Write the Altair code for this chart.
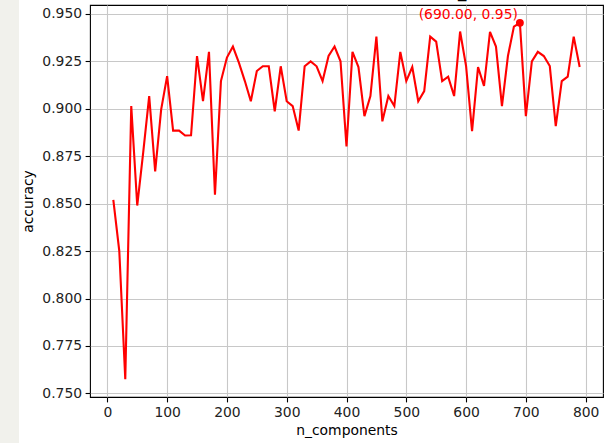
import altair as alt
import pandas as pd

# ---- data ----
n_components = list(range(10, 800, 10))
accuracy = [
    0.852, 0.825, 0.7575, 0.9014, 0.849, 0.877, 0.9067, 0.867, 0.8996, 0.9172,
    0.8885, 0.8885, 0.8859, 0.886, 0.9278, 0.904, 0.930, 0.8547, 0.9146, 0.927,
    0.9328, 0.9243, 0.9146, 0.904, 0.9199, 0.9224, 0.9224, 0.8987, 0.9224, 0.904,
    0.9014, 0.8885, 0.9224, 0.925, 0.9224, 0.9146, 0.9278, 0.9328, 0.925, 0.8802,
    0.930, 0.922, 0.8961, 0.9067, 0.938, 0.8934, 0.9067, 0.9014, 0.930, 0.9146,
    0.922, 0.904, 0.9093, 0.938, 0.9354, 0.9146, 0.9169, 0.9067, 0.9407, 0.9225,
    0.8882, 0.922, 0.912, 0.9405, 0.9328, 0.9014, 0.9278, 0.9433, 0.9453, 0.8961,
    0.925, 0.930, 0.9278, 0.9225, 0.8908, 0.9146, 0.9169, 0.938, 0.922,
]
x_ticks = [0, 100, 200, 300, 400, 500, 600, 700, 800]
y_ticks = [0.750, 0.775, 0.800, 0.825, 0.850, 0.875, 0.900, 0.925, 0.950]
title_text = "Validation accuracy with changing the n_components"
x_label = "n_components"
y_label = "accuracy"

df = pd.DataFrame({"n_components": n_components, "accuracy": accuracy})
best = df.loc[df["accuracy"].idxmax()]
best_df = pd.DataFrame({
    "n_components": [best["n_components"]],
    "accuracy": [best["accuracy"]],
    "label": [f"({best['n_components']:.2f}, {best['accuracy']:.2f})"],
})

# matplotlib-like 5% margins
xmin, xmax = min(n_components), max(n_components)
ymin, ymax = min(accuracy), max(accuracy)
xm = 0.05 * (xmax - xmin)
ym = 0.05 * (ymax - ymin)
x_scale = alt.Scale(domain=[xmin - xm, xmax + xm], nice=False, zero=False)
y_scale = alt.Scale(domain=[ymin - ym, ymax + ym], nice=False, zero=False)

FONT = "DejaVu Sans"
common_axis = dict(
    grid=True, gridColor="#c8c8c8", gridWidth=1.1, domain=False,
    tickColor="black", tickSize=4.9, tickWidth=1.1,
    labelFont=FONT, labelFontSize=13.9, labelColor="#222222", labelPadding=3.5,
    labelOverlap=False, labelFlush=False,
    titleFont=FONT, titleFontSize=13.9, titleFontWeight="normal", titleColor="#000000",
)
x_axis = alt.Axis(values=x_ticks, format="d", title=x_label, titlePadding=4, **common_axis)
y_axis = alt.Axis(values=y_ticks, format=".3f", title=y_label, titlePadding=6, **common_axis)

X = alt.X("n_components:Q", scale=x_scale, axis=x_axis)
Y = alt.Y("accuracy:Q", scale=y_scale, axis=y_axis)

line = alt.Chart(df).mark_line(color="#ff0000", strokeWidth=2.1).encode(x=X, y=Y)
point = alt.Chart(best_df).mark_circle(color="#ff0000", size=62, opacity=1).encode(
    x=alt.X("n_components:Q", scale=x_scale), y=alt.Y("accuracy:Q", scale=y_scale))
label = alt.Chart(best_df).mark_text(
    color="#ff0000", align="right", baseline="alphabetic", dx=-2, dy=-4,
    font=FONT, fontSize=13.9,
).encode(x=alt.X("n_components:Q", scale=x_scale), y=alt.Y("accuracy:Q", scale=y_scale), text="label:N")

title_df = pd.DataFrame({"t": [title_text]})
title = alt.Chart(title_df).mark_text(
    color="black", align="center", baseline="alphabetic", font=FONT, fontSize=16.7,
).encode(text="t:N", x=alt.value(256.5), y=alt.value(-8.3))

strip = alt.Chart(title_df).mark_rect(color="#f1f1ec").encode(
    x=alt.value(-90), x2=alt.value(-71), y=alt.value(-5), y2=alt.value(438))

chart = alt.layer(strip, line, point, label, title).properties(
    width=513, height=392,
    autosize=alt.AutoSizeParams(type="none"),
    padding={"left": 90, "top": 5, "right": 9, "bottom": 46},
    background="white",
).configure_view(stroke="black", strokeWidth=1.1)

chart.save("out.html", embed_options={"renderer": "svg", "actions": False})
